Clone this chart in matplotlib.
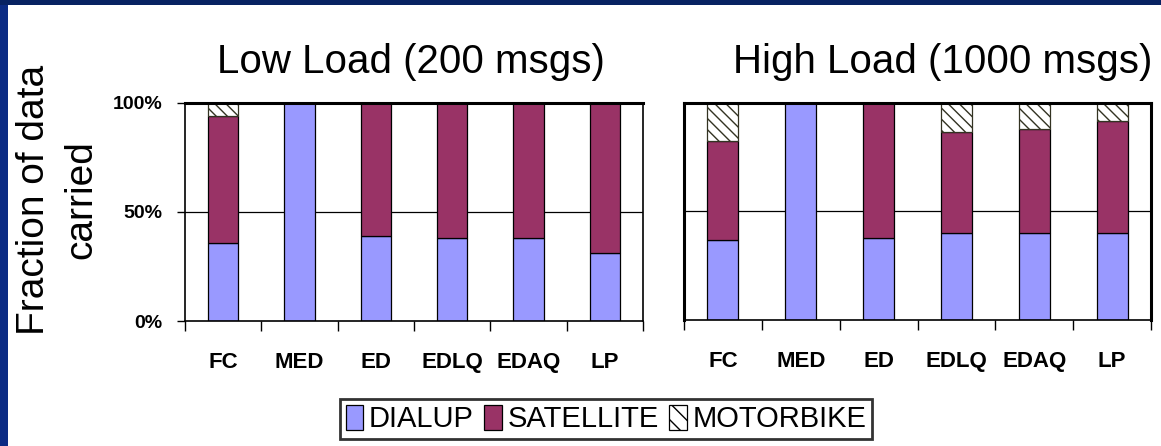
import numpy as np
import matplotlib
matplotlib.use("Agg")
import matplotlib.pyplot as plt
from matplotlib.patches import Rectangle, Patch

plt.rcParams['font.family'] = ['Liberation Sans', 'DejaVu Sans']
plt.rcParams['hatch.linewidth'] = 1.0

categories = ["FC", "MED", "ED", "EDLQ", "EDAQ", "LP"]

# fractions, low load (200 msgs)
low_dialup = [0.36, 1.00, 0.39, 0.38, 0.38, 0.31]
low_satellite = [0.58, 0.00, 0.61, 0.62, 0.62, 0.69]
low_motorbike = [0.06, 0.00, 0.00, 0.00, 0.00, 0.00]

# fractions, high load (1000 msgs)
high_dialup = [0.37, 1.00, 0.38, 0.40, 0.40, 0.40]
high_satellite = [0.455, 0.00, 0.62, 0.465, 0.48, 0.515]
high_motorbike = [0.175, 0.00, 0.00, 0.135, 0.12, 0.085]

titles = ["Low Load (200 msgs)", "High Load (1000 msgs)"]
series_names = ["DIALUP", "SATELLITE", "MOTORBIKE"]

c_dialup = "#9999FF"
c_sat = "#993366"

W, H = 1161, 446
fig = plt.figure(figsize=(W / 100, H / 100), dpi=100)
fig.patch.set_facecolor("white")

# dark blue slide border
fig.patches.append(Rectangle((0, 0), 8 / W, 1, transform=fig.transFigure,
                             facecolor="#0b2b84", edgecolor="none", zorder=0))
fig.patches.append(Rectangle((0, 1 - 5 / H), 1, 5 / H, transform=fig.transFigure,
                             facecolor="#072262", edgecolor="none", zorder=0))

ax1 = fig.add_axes([185 / W, 1 - 321 / H, (643 - 185) / W, (321 - 103) / H])
ax2 = fig.add_axes([684 / W, 1 - 320 / H, (1151 - 684) / W, (320 - 103) / H])

x = np.arange(len(categories))
bw = 0.4

panels = [(ax1, low_dialup, low_satellite, low_motorbike),
          (ax2, high_dialup, high_satellite, high_motorbike)]

for i, (ax, d, s, m) in enumerate(panels):
    d = np.array(d)
    s = np.array(s)
    m = np.array(m)
    ax.axhline(0.5, color="black", lw=0.9, zorder=0)
    ax.bar(x, d, bw, color=c_dialup, edgecolor="black", lw=0.9, zorder=2)
    ax.bar(x, s, bw, bottom=d, color=c_sat, edgecolor="black", lw=0.9, zorder=2)
    ax.bar(x, m, bw, bottom=d + s, color="white", edgecolor="#333322",
           hatch="\\\\\\", lw=0.9, zorder=2)
    ax.set_xlim(-0.5, len(categories) - 0.5)
    ax.set_ylim(0, 1)
    ax.set_xticks(np.arange(len(categories) + 1) - 0.5)
    ax.set_xticklabels([])
    ax.set_xticks(x, minor=True)
    ax.set_xticklabels(categories, minor=True, fontsize=16, fontweight="bold")
    ax.tick_params(axis="x", which="minor", length=0, pad=22)
    ax.tick_params(axis="x", which="major", length=7, width=1, direction="out")
    ax.set_yticks([0, 0.5, 1.0])
    if i == 0:
        ax.set_yticklabels(["0%", "50%", "100%"], fontsize=14, fontweight="bold")
    else:
        ax.set_yticklabels([])
    ax.tick_params(axis="y", length=6, width=1, pad=10)
    for side in ["top", "right", "left"]:
        ax.spines[side].set_linewidth(2.2)
    ax.spines["bottom"].set_linewidth(1.2)
    if i == 0:
        ax.spines["left"].set_linewidth(1.2)
        ax.spines["right"].set_linewidth(1.2)

ax2.tick_params(axis="y", length=0)

fig.text(411 / W, 1 - 62 / H, titles[0], fontsize=29, ha="center", va="center")
fig.text(943 / W, 1 - 62 / H, titles[1], fontsize=29, ha="center", va="center")

fig.text(58 / W, 1 - 200 / H, "Fraction of data\ncarried", fontsize=28,
         rotation=90, ha="center", va="center", linespacing=1.4)

handles = [Patch(facecolor=c_dialup, edgecolor="black", lw=0.9),
           Patch(facecolor=c_sat, edgecolor="black", lw=0.9),
           Patch(facecolor="white", edgecolor="black", hatch="\\\\", lw=0.9)]
leg = fig.legend(handles, series_names, loc="center", bbox_to_anchor=(606 / W, 1 - 419 / H),
                 ncol=3, fontsize=21, frameon=True, fancybox=False, handlelength=0.6,
                 handleheight=0.95, handletextpad=0.2, columnspacing=0.35,
                 borderpad=0.2, borderaxespad=0)
leg.get_frame().set_edgecolor("black")
leg.get_frame().set_linewidth(2)

plt.savefig("out.png", dpi=100)
